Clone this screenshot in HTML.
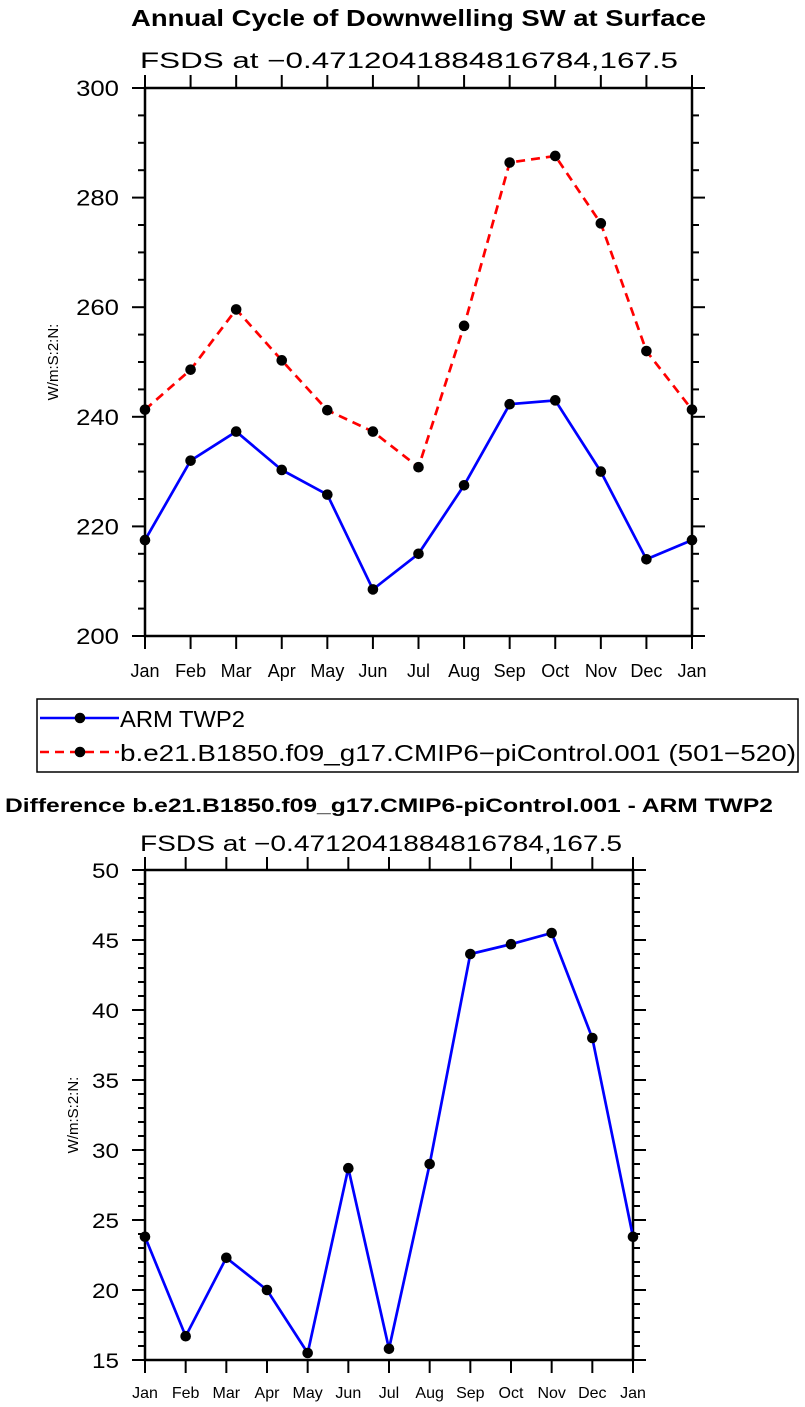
<!DOCTYPE html>
<html><head><meta charset="utf-8"><style>
html,body{margin:0;padding:0;background:#fff;}
svg{display:block;font-family:"Liberation Sans",sans-serif;}
</style></head><body>
<svg id="svg" width="805" height="1407" viewBox="0 0 805 1407">
<g id="top"></g>
<g id="bot"></g>
</svg>
<script>
const months = ["Jan","Feb","Mar","Apr","May","Jun","Jul","Aug","Sep","Oct","Nov","Dec","Jan"];
const armValues = [217.5,232,237.3,230.3,225.8,208.5,215,227.5,242.3,243,230,214,217.5];
const modelValues = [241.3,248.6,259.6,250.3,241.2,237.3,230.8,256.6,286.4,287.6,275.3,252,241.3];
const diffValues = [23.8,16.7,22.3,20.0,15.5,28.7,15.8,29,44,44.7,45.5,38,23.8];
const topTicks = [200,220,240,260,280,300];
const botTicks = [15,20,25,30,35,40,45,50];

const NS="http://www.w3.org/2000/svg";
function mk(parent,tag,attrs,text){const e=document.createElementNS(NS,tag);for(const k in attrs)e.setAttribute(k,attrs[k]);if(text!==undefined)e.textContent=text;parent.appendChild(e);return e;}

function chart(g,o){
  const {x0,x1,y0,y1,vmin,vmax,minor,title,titleY,titleSize,subY,series,ylabelX}=o;
  const xs=i=>x0+(x1-x0)*i/(months.length-1);
  const ys=v=>y1-(y1-y0)*(v-vmin)/(vmax-vmin);
  let t=mk(g,'text',{x:o.titleX0,y:titleY,'font-weight':'bold','font-size':titleSize,fill:'#000',textLength:o.titleW,lengthAdjust:'spacingAndGlyphs'},title);
  
  
  t=mk(g,'text',{x:140,y:subY,'font-size':22,fill:'#000',textLength:o.subW,lengthAdjust:'spacingAndGlyphs'},'FSDS at \u22120.4712041884816784,167.5');
  
  
  t=mk(g,'text',{x:ylabelX,y:(y0+y1)/2,'text-anchor':'middle','font-size':15,fill:'#000',transform:`rotate(-90 ${ylabelX} ${(y0+y1)/2})`},'W/m:S:2:N:');
  
  
  for(let v=vmin;v<=vmax+1e-9;v+=minor){
    const y=ys(v);
    const major=o.ticks.some(tv=>Math.abs(tv-v)<1e-6);
    const L=major?13:7;
    let l=mk(g,'line',{x1:x0-L,x2:x0,y1:y,y2:y,stroke:'#000','stroke-width':2});
    
    
    l=mk(g,'line',{x1:x1,x2:x1+L,y1:y,y2:y,stroke:'#000','stroke-width':2});
    
    
  }
  o.ticks.forEach(v=>{
    const s=String(v);
    const tx=mk(g,'text',{x:119,y:ys(v)+8,'text-anchor':'end','font-size':o.tickFont,fill:'#000',textLength:s.length*o.digitW,lengthAdjust:'spacingAndGlyphs'},s);
    
    
  });
  months.forEach((m,i)=>{
    const x=xs(i);
    let l=mk(g,'line',{x1:x,x2:x,y1:y1,y2:y1+13,stroke:'#000','stroke-width':2});
    
    
    l=mk(g,'line',{x1:x,x2:x,y1:y0-13,y2:y0,stroke:'#000','stroke-width':2});
    
    
    const tx=mk(g,'text',{x:x,y:y1+o.xlabDy,'text-anchor':'middle','font-size':o.xFont,fill:'#000'},m);
    
    
  });
  const fr=mk(g,'rect',{x:x0,y:y0,width:x1-x0,height:y1-y0,fill:'none',stroke:'#000','stroke-width':2.5});
  
  
  series.forEach(s=>{
    const pts=s.values.map((v,i)=>xs(i).toFixed(1)+','+ys(v).toFixed(1)).join(' ');
    const pl=mk(g,'polyline',{points:pts,fill:'none',stroke:s.color,'stroke-width':2.7,'stroke-dasharray':s.dash||'none'});
    
    
    s.values.forEach((v,i)=>{
      const c=mk(g,'circle',{cx:xs(i),cy:ys(v),r:5.3,fill:'#000'});
      
      
    });
  });
}

chart(document.getElementById('top'),{x0:145,x1:692,y0:88,y1:636,vmin:200,vmax:300,minor:5,ticks:topTicks,
  title:'Annual Cycle of Downwelling SW at Surface',titleX0:131,titleW:575,titleY:26,titleSize:23,subY:68,subW:538,ylabelX:58,tickFont:22,digitW:14.3,xFont:18,xlabDy:41,
  series:[{name:'arm-twp2',values:armValues,color:'#0000ff'},{name:'model',values:modelValues,color:'#ff0000',dash:'9,6'}]});
chart(document.getElementById('bot'),{x0:145,x1:633,y0:870,y1:1360,vmin:15,vmax:50,minor:1,ticks:botTicks,
  title:'Difference b.e21.B1850.f09_g17.CMIP6-piControl.001 - ARM TWP2',titleX0:5,titleW:768,titleY:812,titleSize:19,subY:851,subW:482,ylabelX:78,tickFont:21,digitW:13.5,xFont:16,xlabDy:38,
  series:[{name:'difference',values:diffValues,color:'#0000ff'}]});

const svg=document.getElementById('svg');
const lg=mk(svg,'g',{});


const box=mk(lg,'rect',{x:37,y:699,width:761,height:73,fill:'none',stroke:'#000','stroke-width':1.5});


const entries=[{label:'ARM TWP2',color:'#0000ff',dash:'none',y:718,w:125},{label:'b.e21.B1850.f09_g17.CMIP6\u2212piControl.001 (501\u2212520)',color:'#ff0000',dash:'9,6',y:752,w:676}];
entries.forEach(e=>{
  const l=mk(lg,'line',{x1:40,x2:119,y1:e.y,y2:e.y,stroke:e.color,'stroke-width':2.5,'stroke-dasharray':e.dash});
  
  
  const c=mk(lg,'circle',{cx:80,cy:e.y,r:5.3,fill:'#000'});
  
  
  const t=mk(lg,'text',{x:120,y:e.y+9,'font-size':23,fill:'#000',textLength:e.w,lengthAdjust:'spacingAndGlyphs'},e.label);
  
  
});
</script>
</body></html>
